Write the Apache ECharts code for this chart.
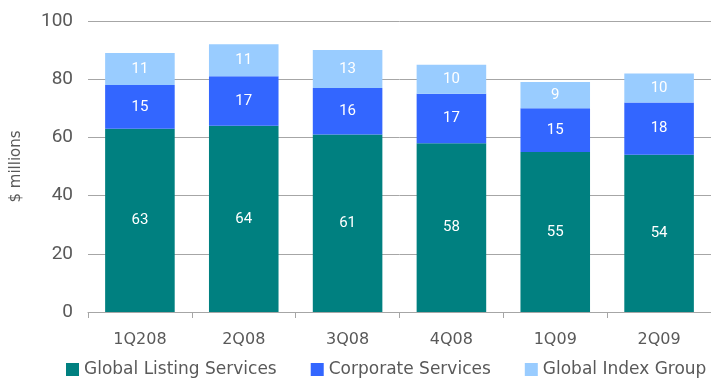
<!DOCTYPE html>
<html><head><meta charset="utf-8">
<script src="https://cdn.jsdelivr.net/npm/echarts@6/dist/echarts.min.js"></script>
<style>html,body{margin:0;padding:0;background:#fff}#c{width:711px;height:380px}</style>
</head><body><div id="c"></div>
<script>
const categories = ['1Q208','2Q08','3Q08','4Q08','1Q09','2Q09'];
const listing = [63,64,61,58,55,54];
const corporate = [15,17,16,17,15,18];
const index = [11,11,13,10,9,10];
const yTicks = [0,20,40,60,80,100];

const font = 'DejaVu Sans';
const chart = echarts.init(document.getElementById('c'));
const lbl = {show:true, position:'inside', color:'#fff', fontSize:15, fontFamily:'Roboto'};
function s(name, data, color){
  return {name, type:'bar', stack:'a', data, barWidth:'67%', itemStyle:{color}, label:lbl};
}
chart.setOption({
  animation:false,
  grid:{left:88, right:-2, top:21, bottom:68},
  legend:{bottom:2, left:66, width:645, padding:0, itemWidth:13, itemHeight:13, itemGap:34, icon:'rect',
    textStyle:{fontSize:17, fontFamily:font, color:'#595959'}},
  xAxis:{type:'category', data:categories,
    axisLine:{lineStyle:{color:'#A6A6A6'}}, axisTick:{show:true, length:6, lineStyle:{color:'#A6A6A6'}},
    axisLabel:{fontSize:16, fontFamily:font, color:'#595959', margin:20}},
  yAxis:{type:'value', min:yTicks[0], max:yTicks[yTicks.length-1], interval:20,
    name:'$ millions', nameLocation:'middle', nameGap:64, nameRotate:90,
    nameTextStyle:{fontSize:15, fontFamily:font, color:'#595959'},
    axisLabel:{fontSize:19, fontFamily:'Roboto', color:'#595959', margin:15},
    splitLine:{lineStyle:{color:'#A6A6A6'}}},
  series:[s('Global Listing Services', listing, '#008080'),
          s('Corporate Services', corporate, '#3366FF'),
          s('Global Index Group', index, '#99CCFF')]
});
</script></body></html>
